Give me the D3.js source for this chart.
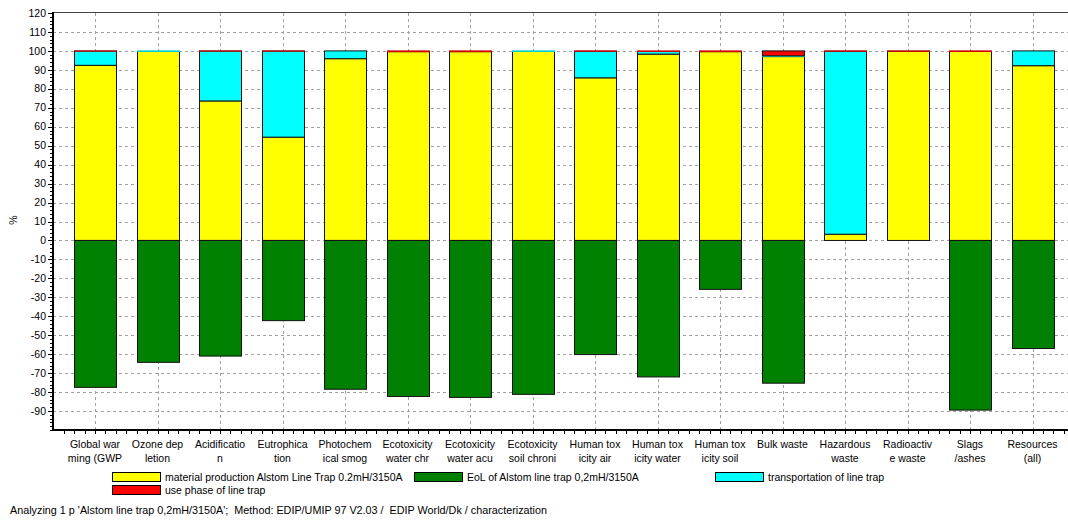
<!DOCTYPE html>
<html>
<head>
<meta charset="utf-8">
<script src="https://cdn.jsdelivr.net/npm/d3@7"></script>
<style>
  html, body { margin: 0; padding: 0; background: #fff; }
  svg text { font-family: "Liberation Sans", Arial, sans-serif; font-size: 10.5px; fill: #000; }
</style>
</head>
<body>
<svg id="chart" width="1068" height="520"></svg>
<script>
// Impact categories (two-line labels)
const categories = [
  "Global war\nming (GWP", "Ozone dep\nletion", "Acidificatio\nn", "Eutrophica\ntion",
  "Photochem\nical smog", "Ecotoxicity\nwater chr", "Ecotoxicity\nwater acu", "Ecotoxicity\nsoil chroni",
  "Human tox\nicity air", "Human tox\nicity water", "Human tox\nicity soil", "Bulk waste",
  "Hazardous\nwaste", "Radioactiv\ne waste", "Slags\n/ashes", "Resources\n(all)"
];

// Contributions per life-cycle stage, % of total
const materialProduction = [92.4, 99.7, 73.6, 54.5, 95.9, 99.6, 99.6, 99.7, 85.8, 98.3, 99.6, 97.0, 3.3, 99.8, 99.7, 92.2];
const transportation     = [7.5, 0.3, 26.3, 45.4, 4.1, 0, 0, 0.3, 14.0, 1.4, 0, 0.4, 96.5, 0, 0, 7.8];
const usePhase           = [0.1, 0, 0.1, 0.1, 0, 0.4, 0.4, 0, 0.2, 0.3, 0.4, 2.6, 0.2, 0.2, 0.3, 0];
const endOfLife          = [-77.5, -64.3, -61.0, -42.3, -78.5, -82.3, -82.8, -81.2, -60.2, -72.0, -25.8, -75.3, 0, 0, -89.5, -57.0];

const yTicks = [-90, -80, -70, -60, -50, -40, -30, -20, -10, 0, 10, 20, 30, 40, 50, 60, 70, 80, 90, 100, 110, 120];

const seriesNames = [
  "material production Alstom Line Trap 0.2mH/3150A",
  "EoL of Alstom line trap 0,2mH/3150A",
  "transportation of line trap",
  "use phase of line trap"
];
const colors = { material: "#ffff00", eol: "#008000", transport: "#00ffff", use: "#ff0000" };

const svg = d3.select("#chart");
const plotLeft = 52, plotTop = 12, plotBottom = 430, plotRight = 1068;

const x = d3.scaleBand()
  .domain(categories)
  .range([63.75, 1063.75])
  .paddingInner(0.33)
  .paddingOuter(0.165);

const y = d3.scaleLinear().domain([-100, 120]).range([plotBottom, plotTop + 1]);

// grid
const grid = svg.append("g").attr("stroke", "#a0a0a0").attr("stroke-dasharray", "3,3").attr("stroke-width", 1);
grid.selectAll("line.h").data(yTicks.filter(d => d < 120)).enter().append("line")
  .attr("x1", plotLeft + 1).attr("x2", plotRight)
  .attr("y1", d => Math.round(y(d)) + 0.5).attr("y2", d => Math.round(y(d)) + 0.5);
grid.selectAll("line.v").data(categories).enter().append("line")
  .attr("x1", d => Math.round(x(d) + x.bandwidth() / 2) + 0.5)
  .attr("x2", d => Math.round(x(d) + x.bandwidth() / 2) + 0.5)
  .attr("y1", plotTop + 1).attr("y2", plotBottom);

// stacked bars: material, transport, use phase above zero; end-of-life below
const stacked = categories.map((c, i) => {
  const segs = [];
  let base = 0;
  [["material", materialProduction[i]], ["transport", transportation[i]], ["use", usePhase[i]]].forEach(([k, v]) => {
    if (v > 0) { segs.push({ c, k, y0: base, y1: base + v }); base += v; }
  });
  if (endOfLife[i] < 0) segs.push({ c, k: "eol", y0: endOfLife[i], y1: 0 });
  return segs;
}).flat();

const bars = svg.append("g");
bars.selectAll("rect").data(stacked).enter().append("rect")
  .attr("x", d => Math.round(x(d.c)) + 0.5)
  .attr("width", Math.round(x.bandwidth()))
  .attr("y", d => y(d.y1))
  .attr("height", d => Math.max(0.01, y(d.y0) - y(d.y1)))
  .attr("fill", d => colors[d.k])
  .attr("stroke", d => (y(d.y0) - y(d.y1)) < 1.5 ? d3.color(colors[d.k]).darker(0.6) : "#111")
  .attr("stroke-width", 1);

// frame
svg.append("line").attr("x1", plotLeft).attr("x2", plotRight).attr("y1", plotTop + 0.5).attr("y2", plotTop + 0.5)
  .attr("stroke", "#444").attr("stroke-width", 1);
svg.append("line").attr("x1", plotLeft + 1).attr("x2", plotLeft + 1).attr("y1", plotTop).attr("y2", plotBottom + 1)
  .attr("stroke", "#000").attr("stroke-width", 2);
svg.append("line").attr("x1", plotLeft).attr("x2", plotRight).attr("y1", plotBottom).attr("y2", plotBottom)
  .attr("stroke", "#000").attr("stroke-width", 2);

// y axis ticks and labels
const yAxis = svg.append("g");
yAxis.selectAll("line.minor").data(d3.range(-100, 121, 2)).enter().append("line")
  .attr("x1", plotLeft - 2).attr("x2", plotLeft)
  .attr("y1", d => Math.round(y(d)) + 0.5).attr("y2", d => Math.round(y(d)) + 0.5)
  .attr("stroke", "#000");
yAxis.selectAll("line.major").data(yTicks).enter().append("line")
  .attr("x1", plotLeft - 4).attr("x2", plotLeft)
  .attr("y1", d => Math.round(y(d)) + 0.5).attr("y2", d => Math.round(y(d)) + 0.5)
  .attr("stroke", "#000");
yAxis.selectAll("text").data(yTicks).enter().append("text")
  .attr("x", 46).attr("y", d => y(d)).attr("dy", "0.35em")
  .attr("text-anchor", "end").text(d => d);

svg.append("text").attr("transform", "translate(17,220) rotate(-90)")
  .attr("text-anchor", "middle").text("%");

// x axis ticks and labels
const step = x.step();
const xAxis = svg.append("g");
xAxis.selectAll("line").data(d3.range(0, categories.length * 6 + 1)).enter().append("line")
  .attr("x1", i => Math.round(63.75 + i * step / 6) + 0.5)
  .attr("x2", i => Math.round(63.75 + i * step / 6) + 0.5)
  .attr("y1", plotBottom).attr("y2", plotBottom + 4)
  .attr("stroke", "#000");
categories.forEach(c => {
  const t = xAxis.append("text")
    .attr("x", x(c) + x.bandwidth() / 2).attr("y", 448)
    .attr("text-anchor", "middle");
  c.split("\n").forEach((line, j) => {
    t.append("tspan").attr("x", x(c) + x.bandwidth() / 2).attr("y", 448 + j * 14).text(line);
  });
});

// legend
const legendItems = [
  { name: seriesNames[0], color: colors.material, lx: 112, ly: 472 },
  { name: seriesNames[1], color: colors.eol, lx: 414, ly: 472 },
  { name: seriesNames[2], color: colors.transport, lx: 715, ly: 472 },
  { name: seriesNames[3], color: colors.use, lx: 112, ly: 485 }
];
const legend = svg.append("g");
legendItems.forEach(it => {
  legend.append("rect").attr("x", it.lx + 0.5).attr("y", it.ly + 0.5).attr("width", 48).attr("height", 9)
    .attr("fill", it.color).attr("stroke", "#000");
  legend.append("text").attr("x", it.lx + 53).attr("y", it.ly + 9).text(it.name);
});

// footer
svg.append("text").attr("x", 10).attr("y", 514)
  .attr("xml:space", "preserve")
  .style("white-space", "pre")
  .style("font-size", "10.8px")
  .text("Analyzing 1 p 'Alstom line trap 0,2mH/3150A';  Method: EDIP/UMIP 97 V2.03 /  EDIP World/Dk / characterization");
</script>
</body>
</html>
